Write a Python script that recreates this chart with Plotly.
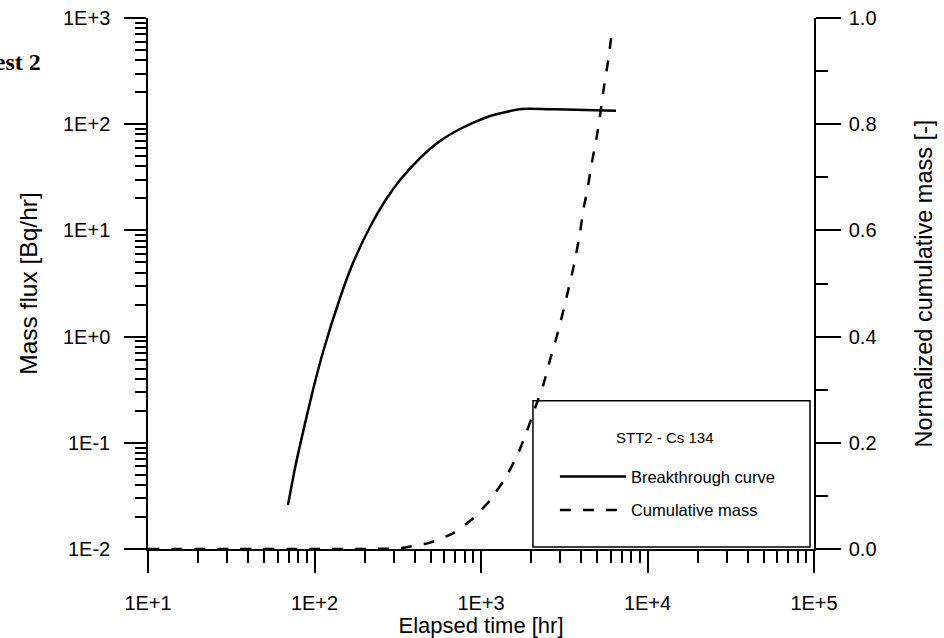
import plotly.graph_objects as go

# ---- data ----
bt_time = [69.3, 76.4, 85.3, 97.9, 112.5, 142.3, 170.3, 215.4, 265.1, 326.2, 430.1, 567.3,
           747.9, 1133, 1763, 2782, 6469]
bt_flux = [0.026, 0.058, 0.126, 0.314, 0.716, 2.31, 4.93, 10.77, 18.9, 29.8, 48.0, 69.5,
           90.1, 119.5, 139.0, 138.0, 134.0]

cm_time = [10, 100, 200, 300, 350, 494, 682, 899, 1133, 1394, 1639, 1882, 2110, 2367, 2597,
           2849, 3078, 3344, 3635, 3894, 4155, 4349, 4623, 4954, 5235, 5479, 5815, 6124]
cm_mass = [0.0, 0.0, 0.0, 0.001, 0.003, 0.012, 0.030, 0.058, 0.092, 0.133, 0.174, 0.221, 0.265,
           0.309, 0.356, 0.400, 0.441, 0.488, 0.538, 0.588, 0.645, 0.676, 0.726, 0.776, 0.825,
           0.871, 0.921, 0.977]

x_tickvals = [10, 100, 1000, 10000, 100000]
x_ticktext = ["1E+1", "1E+2", "1E+3", "1E+4", "1E+5"]
y_tickvals = [0.01, 0.1, 1, 10, 100, 1000]
y_ticktext = ["1E-2", "1E-1", "1E+0", "1E+1", "1E+2", "1E+3"]

legend_title = "STT2 - Cs 134"
series_names = ["Breakthrough curve", "Cumulative mass"]

FONT = "Arial, Liberation Sans, sans-serif"

def minor_vals(decades):
    out = []
    for d in decades[:-1]:
        for k in range(2, 10):
            out.append(d * k)
    return out

fig = go.Figure()
fig.add_trace(go.Scatter(x=bt_time, y=bt_flux, mode="lines", name=series_names[0],
                         legendgroup="a",
                         line=dict(color="black", width=2.5, shape="spline", smoothing=0.6)))
fig.add_trace(go.Scatter(x=cm_time, y=cm_mass, mode="lines", name=series_names[1],
                         legendgroup="b", yaxis="y2",
                         line=dict(color="black", width=2.5, dash="11px,12px",
                                   shape="spline", smoothing=0.6)))

fig.update_layout(
    width=944, height=638,
    margin=dict(l=148, r=130, t=18, b=89),
    paper_bgcolor="white", plot_bgcolor="white",
    font=dict(family=FONT, color="black", size=20),
    showlegend=True,
    legend=dict(
        x=0.611, y=0.169, xanchor="left", yanchor="top",
        bgcolor="rgba(0,0,0,0)", borderwidth=0,
        font=dict(size=16.5), itemwidth=66, tracegroupgap=9, traceorder="grouped",
    ),
    xaxis=dict(
        type="log", range=[1, 5],
        tickmode="array", tickvals=x_tickvals, ticktext=x_ticktext,
        ticks="outside", ticklen=22, tickwidth=1.5, tickcolor="black",
        minor=dict(tickmode="array", tickvals=minor_vals(x_tickvals), ticks="outside",
                   ticklen=12, tickwidth=1.5, tickcolor="black"),
        showline=True, linecolor="black", linewidth=1.5, mirror=False,
        showgrid=False, zeroline=False,
        tickfont=dict(size=20), ticklabelstandoff=13,
        title=dict(text="Elapsed time [hr]", font=dict(size=22), standoff=0),
        automargin=False,
    ),
    yaxis=dict(
        type="log", range=[-2, 3],
        tickmode="array", tickvals=y_tickvals, ticktext=y_ticktext,
        ticks="outside", ticklen=22, tickwidth=1.5, tickcolor="black",
        minor=dict(tickmode="array", tickvals=minor_vals(y_tickvals), ticks="outside",
                   ticklen=11, tickwidth=1.5, tickcolor="black"),
        showline=True, linecolor="black", linewidth=1.5, mirror=False,
        showgrid=False, zeroline=False,
        tickfont=dict(size=20), ticklabelstandoff=10,
        title=dict(text="Mass flux [Bq/hr]", font=dict(size=24.5), standoff=18),
        automargin=False,
    ),
    yaxis2=dict(
        overlaying="y", side="right", range=[0, 1],
        tickmode="linear", tick0=0, dtick=0.2, tickformat=".1f",
        ticks="outside", ticklen=25, tickwidth=1.5, tickcolor="black",
        minor=dict(dtick=0.1, ticks="outside", ticklen=12, tickwidth=1.5, tickcolor="black"),
        showline=True, linecolor="black", linewidth=1.5,
        showgrid=False, zeroline=False,
        tickfont=dict(size=20), ticklabelstandoff=4,
        title=dict(text="Normalized cumulative mass [-]", font=dict(size=23.5), standoff=40),
        automargin=False,
    ),
    shapes=[dict(type="rect", xref="paper", yref="paper",
                 x0=0.578, x1=0.994, y0=0.004, y1=0.279,
                 line=dict(color="black", width=1.5), fillcolor="rgba(0,0,0,0)")],
    annotations=[
        dict(text="<b>Test 2</b>", xref="paper", yref="paper",
             x=-0.1577, y=0.917, xanchor="right", yanchor="middle",
             showarrow=False,
             font=dict(family="Liberation Serif, Times New Roman, serif", size=24)),
        dict(text=legend_title, xref="paper", yref="paper",
             x=(665 - 148) / 666, y=(549 - 437) / 531, xanchor="center", yanchor="middle",
             showarrow=False, font=dict(size=15)),
    ],
)

fig.write_html("out.html")
